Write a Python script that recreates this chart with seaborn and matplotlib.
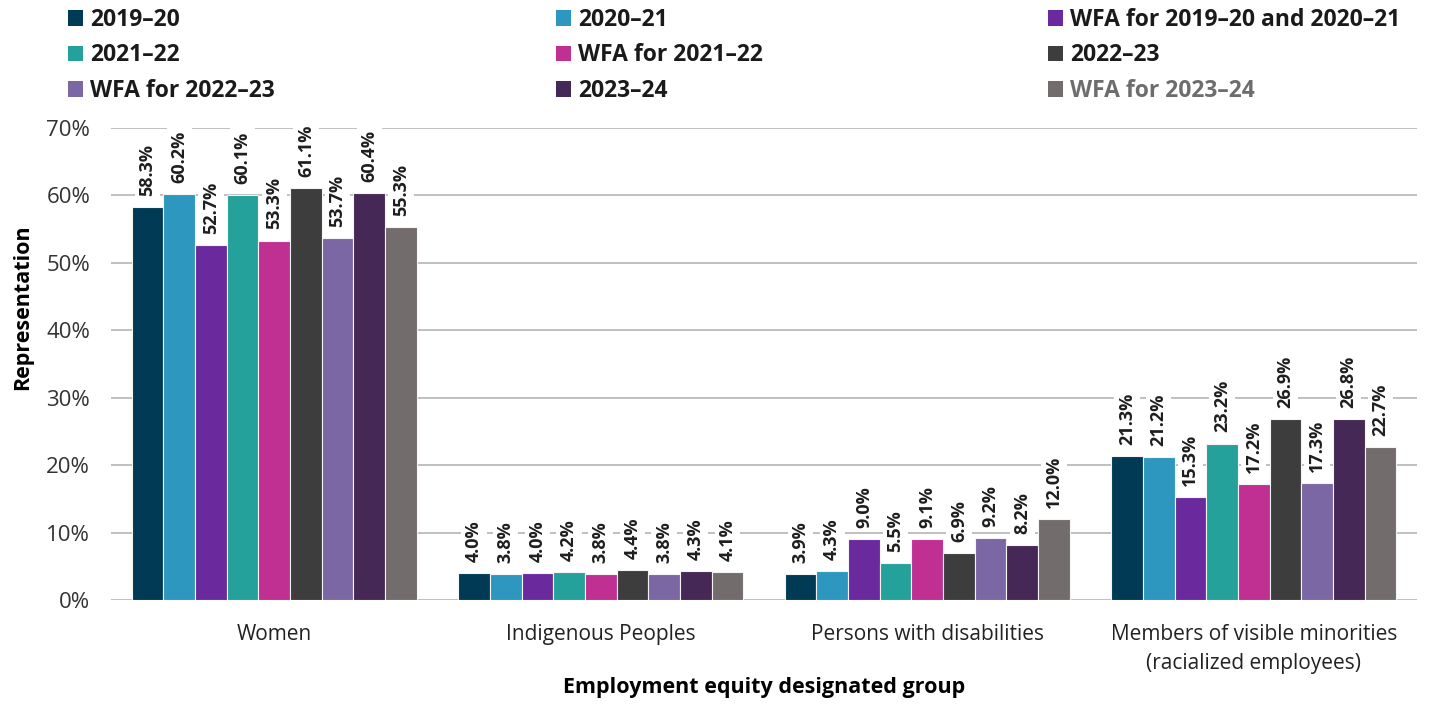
import matplotlib
matplotlib.use("Agg")
import matplotlib.pyplot as plt
import seaborn as sns
import pandas as pd
from matplotlib.patches import Patch
from matplotlib.ticker import FuncFormatter

groups = ["Women", "Indigenous Peoples", "Persons with disabilities",
          "Members of visible minorities\n(racialized employees)"]
series = ["2019\u201320", "2020\u201321", "WFA for 2019\u201320 and 2020\u201321",
          "2021\u201322", "WFA for 2021\u201322", "2022\u201323",
          "WFA for 2022\u201323", "2023\u201324", "WFA for 2023\u201324"]
values = {
    "2019\u201320": [58.3, 4.0, 3.9, 21.3],
    "2020\u201321": [60.2, 3.8, 4.3, 21.2],
    "WFA for 2019\u201320 and 2020\u201321": [52.7, 4.0, 9.0, 15.3],
    "2021\u201322": [60.1, 4.2, 5.5, 23.2],
    "WFA for 2021\u201322": [53.3, 3.8, 9.1, 17.2],
    "2022\u201323": [61.1, 4.4, 6.9, 26.9],
    "WFA for 2022\u201323": [53.7, 3.8, 9.2, 17.3],
    "2023\u201324": [60.4, 4.3, 8.2, 26.8],
    "WFA for 2023\u201324": [55.3, 4.1, 12.0, 22.7],
}
colors = ["#003a55", "#2e97bf", "#6a2a9e", "#25a19c", "#bf3092",
          "#3d3d3d", "#7a67a3", "#452855", "#726d6c"]

rows = []
for s in series:
    for g, v in zip(groups, values[s]):
        rows.append({"group": g, "series": s, "value": v})
df = pd.DataFrame(rows)

sns.set_theme(style="white")
plt.rcParams["font.family"] = ["Open Sans", "DejaVu Sans"]

W, H = 1429, 704
fig = plt.figure(figsize=(W / 100, H / 100), dpi=100)
ax = fig.add_axes([111 / W, 104 / H, 1306 / W, 472 / H])

sns.barplot(data=df, x="group", y="value", hue="series", hue_order=series,
            order=groups, palette=colors, saturation=1, width=0.873, ax=ax,
            edgecolor="#f4f4f4", linewidth=0.8, legend=False, errorbar=None)

ax.set_ylim(0, 70)
ax.set_yticks(range(0, 71, 10))
ax.yaxis.set_major_formatter(FuncFormatter(lambda v, p: f"{int(v)}%"))
ax.grid(axis="y", color="#c0c0c0", linewidth=1.4)
ax.set_axisbelow(True)
for sp in ax.spines.values():
    sp.set_visible(False)
ax.tick_params(axis="x", length=0, labelsize=15, colors="#222222", pad=17)
ax.tick_params(axis="y", length=0, labelsize=16, colors="#333333", pad=15)
for t in ax.get_xticklabels():
    t.set_linespacing(1.5)
ax.set_xlabel("Employment equity designated group", fontsize=15.5,
              fontweight="bold", color="black")
ax.xaxis.label.set_va("center")
ax.xaxis.set_label_coords(0.5, -0.186)
ax.set_ylabel("Representation", fontsize=15.5, fontweight="bold", color="black")
ax.yaxis.label.set_va("center")
ax.yaxis.set_label_coords(-0.068, 0.62)

for cont in ax.containers:
    for bar in cont:
        h = bar.get_height()
        ax.annotate(f"{h:.1f}%", (bar.get_x() + bar.get_width() / 2, h),
                    xytext=(0, 8), textcoords="offset points",
                    rotation=90, ha="center", va="bottom",
                    fontsize=13, fontweight="bold", color="#1e1e1e",
                    bbox=dict(boxstyle="square,pad=0.2", fc="white", ec="none"))

# legend: three columns, read row by row
col_x = [68, 556, 1048]
for c in range(3):
    idx = [r * 3 + c for r in range(3)]
    leg = fig.legend([Patch(facecolor=colors[i], edgecolor="none") for i in idx],
                     [series[i] for i in idx],
                     loc="upper left", bbox_to_anchor=(col_x[c] / W, 1 - 8 / H),
                     frameon=False, borderpad=0, borderaxespad=0,
                     handlelength=0.65, handleheight=0.65, handletextpad=0.3,
                     labelspacing=0.5, prop={"size": 16.5, "weight": "bold"})
    for i, t in zip(idx, leg.get_texts()):
        t.set_color("#6d6d6d" if i == 8 else "#1a1a1a")

fig.savefig("out.png", dpi=100, facecolor="white")
